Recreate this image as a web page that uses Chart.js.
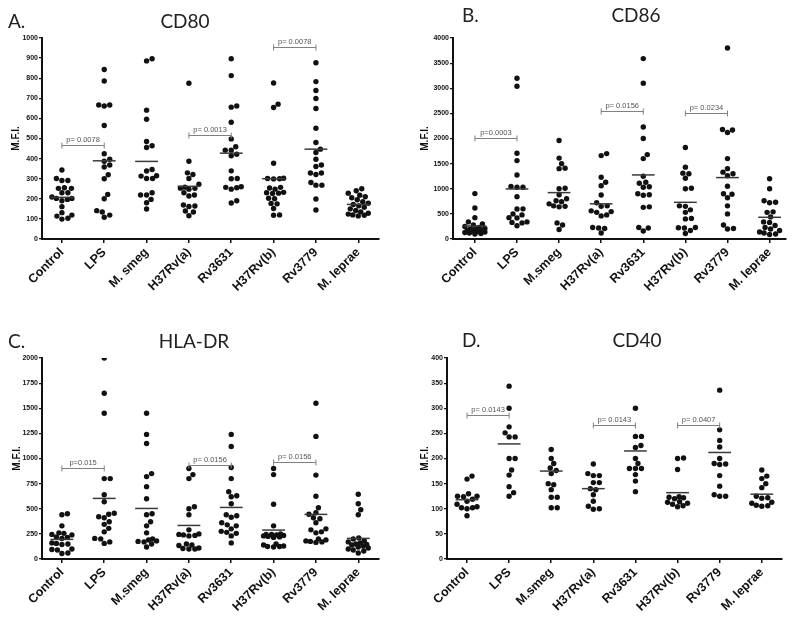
<!DOCTYPE html>
<html>
<head>
<meta charset="utf-8">
<script src="https://cdn.jsdelivr.net/npm/chart.js@4.4.1/dist/chart.umd.min.js"></script>
<style>
  body { margin: 0; background: #fff; width: 800px; height: 617px; position: relative; overflow: hidden; }
  canvas { position: absolute; }
</style>
</head>
<body>
<canvas id="chartA" width="400" height="300" style="left:0;top:0"></canvas>
<canvas id="chartB" width="400" height="300" style="left:400px;top:0"></canvas>
<canvas id="chartC" width="400" height="317" style="left:0;top:300px"></canvas>
<canvas id="chartD" width="400" height="317" style="left:400px;top:300px"></canvas>
<script>
// --- data ---
const labelsA = ["Control", "LPS", "M. smeg", "H37Rv(a)", "Rv3631", "H37Rv(b)", "Rv3779", "M. leprae"];
const labelsBCD = ["Control", "LPS", "M.smeg", "H37Rv(a)", "Rv3631", "H37Rv(b)", "Rv3779", "M. leprae"];

const cd80Values = [
    [343, 301, 291, 291, 252, 230, 230, 252, 255, 209, 202, 190, 197, 202, 161, 131, 114, 99, 103, 119],
    [843, 786, 667, 662, 667, 565, 424, 397, 387, 368, 358, 320, 300, 222, 200, 134, 141, 119, 108],
    [897, 886, 641, 596, 485, 464, 455, 346, 338, 313, 315, 301, 301, 230, 219, 219, 197, 180, 149],
    [775, 387, 329, 321, 301, 273, 253, 258, 252, 230, 219, 214, 248, 169, 162, 164, 139, 134, 116],
    [897, 813, 656, 662, 581, 498, 442, 442, 459, 414, 422, 339, 301, 300, 260, 248, 257, 255, 179, 190],
    [776, 671, 654, 377, 302, 300, 299, 301, 257, 254, 248, 232, 230, 228, 226, 203, 200, 177, 175, 152, 120, 118],
    [877, 783, 739, 699, 649, 551, 480, 447, 430, 397, 368, 361, 328, 321, 328, 281, 268, 268, 199, 144],
    [250, 240, 228, 218, 210, 205, 195, 185, 178, 172, 165, 158, 150, 142, 135, 128, 124, 120, 118, 115]
];
const cd80Means = [207, 389, 386, 262, 427, 300, 447, 172];
const cd80Pvals = [[0, 1, 467, "p= 0.0078"], [3, 4, 516, "p= 0.0013"], [5, 6, 954, "p= 0.0078"]];

const cd86Values = [
    [903, 618, 425, 340, 300, 280, 250, 230, 210, 200, 190, 180, 170, 160, 150, 140, 130, 120, 110, 100],
    [3200, 3040, 1706, 1560, 1275, 1045, 1030, 1030, 843, 600, 598, 500, 480, 425, 420, 340, 330, 320, 265],
    [1960, 1610, 1500, 1410, 1400, 1010, 1000, 880, 800, 760, 740, 700, 660, 650, 640, 320, 280, 190],
    [1700, 1660, 1230, 1130, 1060, 875, 720, 660, 650, 560, 545, 530, 480, 460, 230, 220, 210, 120],
    [3590, 3100, 2230, 2000, 1680, 1600, 1250, 1130, 1110, 1040, 1030, 900, 880, 870, 640, 630, 230, 220, 160],
    [1820, 1430, 1310, 1300, 1210, 1010, 1000, 660, 650, 580, 530, 410, 400, 230, 225, 220, 170, 110],
    [3800, 2180, 2170, 2120, 1600, 1400, 1330, 1300, 1260, 1050, 900, 890, 820, 660, 500, 280, 210, 200],
    [1200, 1000, 760, 730, 720, 540, 530, 440, 340, 330, 270, 230, 200, 170, 140, 120, 100, 90]
];
const cd86Means = [259, 996, 923, 700, 1275, 730, 1222, 432];
const cd86Pvals = [[0, 1, 2012, "p=0.0003"], [3, 4, 2543, "p= 0.0156"], [5, 6, 2503, "p= 0.0234"]];

const hlaValues = [
    [450, 440, 330, 260, 255, 245, 240, 220, 215, 205, 160, 155, 150, 145, 100, 95, 90, 60, 55],
    [2000, 1650, 1450, 800, 800, 640, 570, 455, 445, 420, 410, 370, 345, 305, 270, 205, 200, 170, 155],
    [1450, 1240, 1150, 850, 820, 720, 600, 450, 440, 370, 330, 260, 200, 190, 180, 175, 170, 150, 120],
    [900, 840, 800, 520, 500, 440, 290, 250, 245, 240, 235, 230, 150, 140, 135, 110, 100, 100, 105],
    [1240, 1120, 910, 800, 670, 630, 620, 550, 440, 430, 415, 360, 340, 330, 300, 275, 265, 255, 230, 160],
    [900, 840, 545, 330, 250, 245, 245, 240, 235, 230, 225, 220, 215, 150, 140, 130, 125, 125, 120],
    [1550, 1220, 835, 625, 510, 460, 445, 410, 400, 360, 300, 290, 270, 260, 200, 190, 180, 175, 170, 165],
    [645, 550, 490, 440, 210, 200, 180, 170, 160, 150, 145, 140, 130, 120, 110, 100, 90, 80, 60]
];
const hlaMeans = [195, 603, 503, 334, 513, 288, 444, 205];
const hlaPvals = [[0, 1, 901, "p=0.015"], [3, 4, 936, "p= 0.0156"], [5, 6, 969, "p= 0.0156"]];

const cd40Values = [
    [165, 159, 130, 125, 124, 125, 119, 115, 109, 104, 102, 102, 100, 86],
    [344, 300, 263, 251, 243, 243, 200, 200, 177, 167, 144, 132, 125],
    [218, 200, 190, 181, 176, 170, 150, 148, 138, 123, 123, 102, 102],
    [189, 170, 166, 166, 152, 152, 140, 138, 128, 115, 105, 100, 99],
    [300, 244, 244, 226, 222, 200, 190, 180, 180, 180, 168, 155, 134],
    [201, 200, 178, 124, 123, 122, 120, 114, 113, 111, 109, 106, 104],
    [336, 257, 236, 223, 200, 190, 189, 188, 166, 145, 128, 125, 125],
    [177, 165, 160, 150, 142, 125, 122, 121, 113, 111, 107, 106, 105]
];
const cd40Means = [118, 229, 175, 140, 215, 132, 212, 129];
const cd40Pvals = [[0, 1, 287, "p= 0.0143"], [3, 4, 266, "p= 0.0143"], [5, 6, 266, "p= 0.0407"]];

const FONT = "'Liberation Sans', Arial, sans-serif";
const DOT = 5.6;     // wanted distance between dot centres, px
const MAX_OFF = 10;  // max sideways spread of a group, px

// means, p-value brackets and panel titles
function overlay(o) {
    return {
        id: "overlay",
        afterDatasetsDraw(chart) {
            const { ctx } = chart;
            const x = chart.scales.x, y = chart.scales.y;
            ctx.save();

            ctx.strokeStyle = "#3a3a3a";
            ctx.lineWidth = 1.5;
            o.means.forEach((m, i) => {
                const py = y.getPixelForValue(m);
                ctx.beginPath();
                ctx.moveTo(x.getPixelForValue(i - 0.27), py);
                ctx.lineTo(x.getPixelForValue(i + 0.27), py);
                ctx.stroke();
            });

            ctx.strokeStyle = "#808080";
            ctx.lineWidth = 1;
            ctx.fillStyle = "#555";
            ctx.font = "7.5px " + FONT;
            ctx.textAlign = "center";
            ctx.textBaseline = "bottom";
            o.pvals.forEach(([a, b, v, txt]) => {
                const x1 = x.getPixelForValue(a), x2 = x.getPixelForValue(b);
                const py = Math.round(y.getPixelForValue(v)) + 0.5;
                ctx.beginPath();
                ctx.moveTo(x1, py); ctx.lineTo(x2, py);
                ctx.moveTo(x1, py - 3); ctx.lineTo(x1, py + 3);
                ctx.moveTo(x2, py - 3); ctx.lineTo(x2, py + 3);
                ctx.stroke();
                ctx.fillText(txt, (x1 + x2) / 2, py - 1.5);
            });

            ctx.fillStyle = "#222";
            ctx.font = "19px Lato";
            ctx.textBaseline = "alphabetic";
            ctx.textAlign = "left";
            ctx.fillText(o.letter, o.letterX, o.titleY);
            ctx.textAlign = "center";
            ctx.fillText(o.title, o.titleX, o.titleY);
            ctx.restore();
        }
    };
}

// spread dots of each group sideways (beeswarm, capped width)
function swarm(chart, values) {
    const xs = chart.scales.x, ys = chart.scales.y;
    const unit = xs.getPixelForValue(1) - xs.getPixelForValue(0);
    const cands = [];
    for (let c = 0; c <= MAX_OFF; c += 0.5) {
        cands.push(c);
        if (c > 0) cands.push(-c);
    }
    const pts = [];
    values.forEach((grp, i) => {
        const placed = [];
        grp.slice().sort((p, q) => p - q).forEach(v => {
            const py = ys.getPixelForValue(v);
            let best = 0, bestScore = -1;
            cands.forEach(c => {
                let d = DOT;
                placed.forEach(p => { d = Math.min(d, Math.hypot(c - p.px, py - p.py)); });
                if (d > bestScore + 0.01) { bestScore = d; best = c; }
            });
            placed.push({ px: best, py });
            pts.push({ x: i + best / unit, y: v });
        });
    });
    chart.data.datasets[0].data = pts;
    chart.update("none");
}

function panel(id, o) {
    const ctx = document.getElementById(id).getContext("2d");
    const pts = [];
    o.values.forEach((grp, i) => grp.forEach(v => pts.push({ x: i, y: v })));

    const chart = new Chart(ctx, {
        type: "scatter",
        data: {
            datasets: [{
                data: pts,
                pointRadius: 2.7,
                pointHoverRadius: 2.7,
                backgroundColor: "#111",
                borderWidth: 0
            }]
        },
        options: {
            responsive: false,
            animation: false,
            devicePixelRatio: 1,
            layout: { padding: { top: o.top, right: o.right, left: 0, bottom: 0 } },
            plugins: { legend: { display: false }, tooltip: { enabled: false } },
            scales: {
                x: {
                    type: "linear",
                    min: o.xMin,
                    max: o.xMax,
                    afterBuildTicks: s => { s.ticks = o.labels.map((_, i) => ({ value: i })); },
                    afterFit: s => { s.height = o.xHeight; },
                    ticks: {
                        callback: v => o.labels[v],
                        minRotation: 45,
                        maxRotation: 45,
                        autoSkip: false,
                        padding: 2,
                        color: "#111",
                        font: { family: FONT, size: 12.5, weight: "bold" }
                    },
                    grid: { drawOnChartArea: false, drawTicks: true, tickLength: 4, color: "#111", lineWidth: 1.5 },
                    border: { color: "#111", width: 2 }
                },
                y: {
                    min: 0,
                    max: o.yMax,
                    afterFit: s => { s.width = o.yWidth; },
                    ticks: {
                        stepSize: o.yStep,
                        callback: v => String(v),
                        padding: 1,
                        color: "#111",
                        font: { family: FONT, size: 7, weight: "bold" }
                    },
                    grid: { drawOnChartArea: false, drawTicks: true, tickLength: 3, color: "#111", lineWidth: 1.2 },
                    border: { color: "#111", width: 2 },
                    title: {
                        display: true,
                        text: "M.F.I.",
                        color: "#111",
                        font: { family: FONT, size: 10, weight: "bold" },
                        padding: { top: o.titlePad, bottom: 0 }
                    }
                }
            }
        },
        plugins: [overlay(o)]
    });
    swarm(chart, o.values);
}

panel("chartA", {
    labels: labelsA, values: cd80Values, means: cd80Means, pvals: cd80Pvals,
    yMax: 1000, yStep: 100, top: 38, right: 21, xHeight: 61, yWidth: 42, titlePad: 10,
    xMin: -0.47, xMax: 7.49,
    letter: "A.", letterX: 8, title: "CD80", titleX: 185, titleY: 28
});
panel("chartB", {
    labels: labelsBCD, values: cd86Values, means: cd86Means, pvals: cd86Pvals,
    yMax: 4000, yStep: 500, top: 38, right: 14, xHeight: 61, yWidth: 53, titlePad: 19,
    xMin: -0.52, xMax: 7.39,
    letter: "B.", letterX: 62, title: "CD86", titleX: 236, titleY: 22
});
panel("chartC", {
    labels: labelsBCD, values: hlaValues, means: hlaMeans, pvals: hlaPvals,
    yMax: 2000, yStep: 250, top: 58, right: 21, xHeight: 58, yWidth: 42, titlePad: 11,
    xMin: -0.47, xMax: 7.49,
    letter: "C.", letterX: 8, title: "HLA-DR", titleX: 194, titleY: 48
});
panel("chartD", {
    labels: labelsBCD, values: cd40Values, means: cd40Means, pvals: cd40Pvals,
    yMax: 400, yStep: 50, top: 58, right: 18, xHeight: 58, yWidth: 47, titlePad: 19,
    xMin: -0.475, xMax: 7.48,
    letter: "D.", letterX: 62, title: "CD40", titleX: 237, titleY: 47
});
</script>
</body>
</html>
